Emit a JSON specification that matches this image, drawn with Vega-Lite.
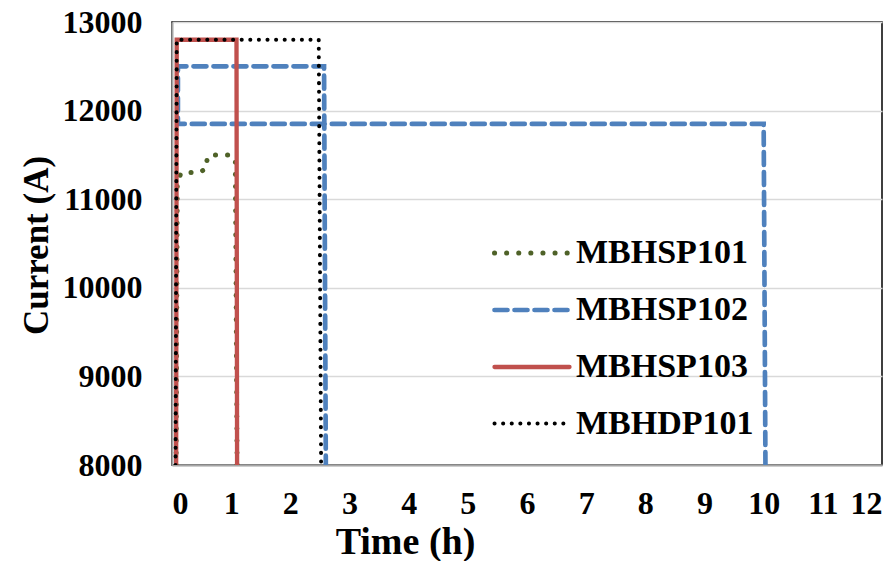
{
  "$schema": "https://vega.github.io/schema/vega-lite/v6.json",
  "width": 710,
  "height": 443,
  "autosize": "none",
  "padding": {"left": 172, "top": 22, "right": 14, "bottom": 96},
  "background": "white",
  "config": {
    "font": "Liberation Serif",
    "view": {"stroke": "black", "strokeWidth": 1.5},
    "axis": {
      "labelFont": "Liberation Serif",
      "labelFontWeight": "bold",
      "labelFontSize": 32,
      "labelColor": "black",
      "titleFont": "Liberation Serif",
      "titleFontWeight": "bold",
      "titleFontSize": 35,
      "titleColor": "black",
      "ticks": false,
      "domainColor": "#a6a6a6",
      "domainWidth": 2,
      "gridColor": "#d9d9d9",
      "gridWidth": 1.5
    },
    "legend": {
      "labelFont": "Liberation Serif",
      "labelFontWeight": "bold",
      "labelFontSize": 34,
      "labelColor": "black",
      "labelLimit": 400
    }
  },
  "data": {
    "values": [
      {"series": "MBHSP101", "o": 1, "t": 0.07, "current": 8000},
      {"series": "MBHSP101", "o": 2, "t": 0.09, "current": 11200},
      {"series": "MBHSP101", "o": 3, "t": 0.15, "current": 11290},
      {"series": "MBHSP101", "o": 4, "t": 0.2, "current": 11300},
      {"series": "MBHSP101", "o": 5, "t": 0.45, "current": 11300},
      {"series": "MBHSP101", "o": 6, "t": 0.57, "current": 11340},
      {"series": "MBHSP101", "o": 7, "t": 0.6, "current": 11480},
      {"series": "MBHSP101", "o": 8, "t": 0.7, "current": 11500},
      {"series": "MBHSP101", "o": 9, "t": 1.0, "current": 11500},
      {"series": "MBHSP101", "o": 10, "t": 1.07, "current": 11420},
      {"series": "MBHSP101", "o": 11, "t": 1.1, "current": 8000},
      {"series": "MBHSP102", "o": 1, "t": 10.03, "current": 8000},
      {"series": "MBHSP102", "o": 2, "t": 10.0, "current": 11850},
      {"series": "MBHSP102", "o": 3, "t": 0.1, "current": 11850},
      {"series": "MBHSP102", "o": 4, "t": 0.1, "current": 12500},
      {"series": "MBHSP102", "o": 5, "t": 2.57, "current": 12500},
      {"series": "MBHSP102", "o": 6, "t": 2.6, "current": 8000},
      {"series": "MBHSP103", "o": 1, "t": 0.07, "current": 8000},
      {"series": "MBHSP103", "o": 2, "t": 0.08, "current": 12800},
      {"series": "MBHSP103", "o": 3, "t": 1.09, "current": 12800},
      {"series": "MBHSP103", "o": 4, "t": 1.1, "current": 8000},
      {"series": "MBHDP101", "o": 1, "t": 0.06, "current": 8000},
      {"series": "MBHDP101", "o": 2, "t": 0.08, "current": 12800},
      {"series": "MBHDP101", "o": 3, "t": 2.48, "current": 12800},
      {"series": "MBHDP101", "o": 4, "t": 2.52, "current": 8000}
    ]
  },
  "encoding": {
    "x": {
      "field": "t", "type": "quantitative",
      "scale": {"domain": [0, 12], "nice": false, "zero": false},
      "axis": {
        "title": "Time (h)",
        "values": [0,1,2,3,4,5,6,7,8,9,10,11,12],
        "format": "d",
        "grid": false,
        "labelPadding": 23,
        "titleFontSize": 38,
        "titleX": 233,
        "titleY": 88,
        "titleBaseline": "alphabetic",
        "titleAnchor": "middle"
      }
    },
    "y": {
      "field": "current", "type": "quantitative",
      "scale": {"domain": [8000, 13000], "nice": false, "zero": false},
      "axis": {
        "title": "Current (A)",
        "values": [8000, 9000, 10000, 11000, 12000, 13000],
        "format": "d",
        "grid": true,
        "labelPadding": 30,
        "titleX": -125,
        "titleY": 223,
        "titleBaseline": "alphabetic",
        "titleAngle": -90,
        "titleAnchor": "middle"
      }
    },
    "order": {"field": "o", "type": "quantitative"},
    "color": {
      "field": "series", "type": "nominal",
      "scale": {
        "domain": ["MBHSP101", "MBHSP102", "MBHSP103", "MBHDP101"],
        "range": ["#4f6228", "#4f81bd", "#c0504d", "#000000"]
      },
      "legend": {
        "title": null,
        "orient": "none",
        "legendX": 320,
        "legendY": 191,
        "padding": 0,
        "symbolType": "M-1,0H1",
        "symbolSize": 5625,
        "labelOffset": 4,
        "rowPadding": -8,
        "encode": {"symbols": {"update": {"strokeCap": {"value": "round"}}}}
      }
    },
    "strokeDash": {
      "field": "series", "type": "nominal",
      "scale": {
        "domain": ["MBHSP101", "MBHSP102", "MBHSP103", "MBHDP101"],
        "range": [[0.1, 12], [13, 7], [1, 0], [0.1, 8.5]]
      }
    },
    "strokeWidth": {
      "field": "series", "type": "nominal",
      "scale": {
        "domain": ["MBHSP101", "MBHSP102", "MBHSP103", "MBHDP101"],
        "range": [5, 4, 3.5, 4]
      }
    }
  },
  "layer": [
    {"transform": [{"filter": "datum.series === 'MBHSP101'"}], "mark": {"type": "line", "strokeCap": "round", "clip": true}},
    {"transform": [{"filter": "datum.series === 'MBHSP102'"}], "mark": {"type": "line", "strokeCap": "round", "clip": true}},
    {"transform": [{"filter": "datum.series === 'MBHSP103'"}], "mark": {"type": "line", "strokeCap": "round", "clip": true}},
    {"transform": [{"filter": "datum.series === 'MBHDP101'"}], "mark": {"type": "line", "strokeCap": "round", "clip": true}}
  ]
}
